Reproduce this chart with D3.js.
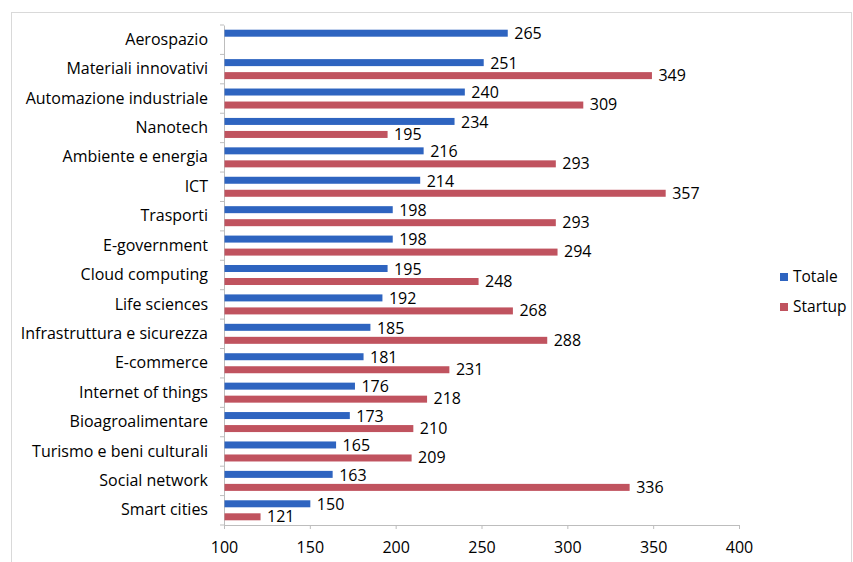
<!DOCTYPE html>
<html><head><meta charset="utf-8">
<script src="https://cdn.jsdelivr.net/npm/d3@7/dist/d3.min.js"></script>
<style>
body{margin:0;background:#fff;}
text{font-family:"Open Sans","Noto Sans",sans-serif;fill:#000;}
</style></head>
<body><svg id="c" width="853" height="562"></svg>
<script>
const categories = ["Aerospazio","Materiali innovativi","Automazione industriale","Nanotech","Ambiente e energia","ICT","Trasporti","E-government","Cloud computing","Life sciences","Infrastruttura e sicurezza","E-commerce","Internet of things","Bioagroalimentare","Turismo e beni culturali","Social network","Smart cities"];
const totale = [265,251,240,234,216,214,198,198,195,192,185,181,176,173,165,163,150];
const startup = [null,349,309,195,293,357,293,294,248,268,288,231,218,210,209,336,121];
const xTicks = [100,150,200,250,300,350,400];
const seriesNames = ["Totale","Startup"];
const colors = ["#2e64c0","#c0535f"];

const svg = d3.select("#c");
svg.append("rect").attr("x",11.5).attr("y",12.5).attr("width",840).attr("height",560)
  .attr("fill","none").attr("stroke","#d9d9d9");

const x = d3.scaleLinear().domain([100,400]).range([224,739]);
const y = d3.scaleBand().domain(categories).range([25,525]);
const bandH = y.bandwidth();
const barH = 7, pad = 4.7;
const fs = "16px";

// axes
const gx = svg.append("g").attr("transform","translate(0,525)")
  .call(d3.axisBottom(x).tickValues(xTicks).tickSize(4).tickPadding(13));
gx.select(".domain").attr("stroke","#bdbdbd");
gx.selectAll(".tick line").attr("stroke","#bdbdbd");
gx.selectAll(".tick text").style("font-size",fs).attr("fill","#000");

const gy = svg.append("g").attr("transform","translate(224,0)")
  .call(d3.axisLeft(y).tickSize(0).tickPadding(16));
gy.select(".domain").attr("stroke","#bdbdbd");
gy.selectAll(".tick text").style("font-size",fs).attr("fill","#000");
// category separator ticks
svg.append("g").selectAll("line").data(d3.range(categories.length+1)).join("line")
  .attr("x1",220).attr("x2",224)
  .attr("y1",i=>25+i*bandH).attr("y2",i=>25+i*bandH).attr("stroke","#bdbdbd");

const data = categories.map((c,i)=>({c, v:[totale[i], startup[i]]}));
const g = svg.append("g");
[0,1].forEach(s=>{
  const rows = data.filter(d=>d.v[s]!=null);
  const off = s===0 ? pad : bandH - pad - barH;
  g.selectAll(".b"+s).data(rows).join("rect")
    .attr("x",x(100)+0.5).attr("y",d=>y(d.c)+off)
    .attr("width",d=>x(d.v[s])-x(100)).attr("height",barH).attr("fill",colors[s]);
  g.selectAll(".l"+s).data(rows).join("text")
    .attr("x",d=>x(d.v[s])+7).attr("y",d=>y(d.c)+off+barH/2+ (s===0?2:1))
    .attr("dominant-baseline","middle").style("font-size",fs).text(d=>d.v[s]);
});

// legend
const lg = svg.append("g");
seriesNames.forEach((n,i)=>{
  lg.append("rect").attr("x",780).attr("y",273+i*30).attr("width",8).attr("height",8).attr("fill",colors[i]);
  lg.append("text").attr("x",793).attr("y",278+i*30).attr("dominant-baseline","middle")
    .style("font-size","15.5px").text(n);
});
</script></body></html>
